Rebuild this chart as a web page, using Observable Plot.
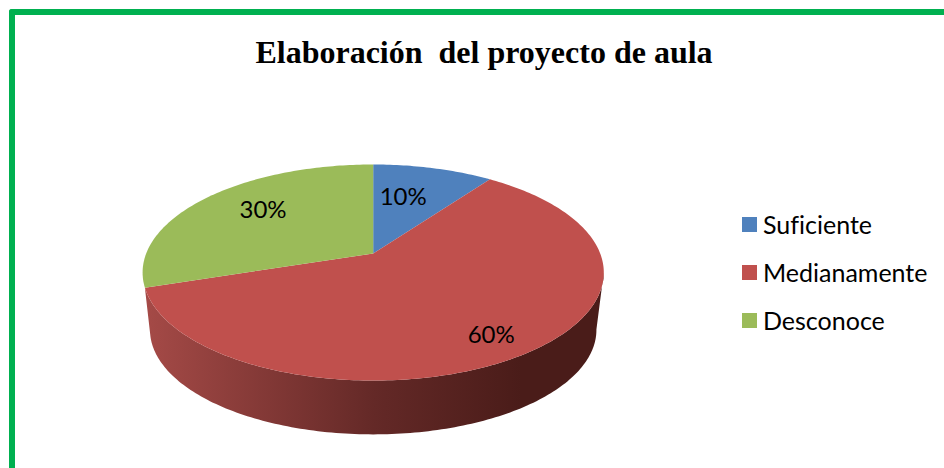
<!DOCTYPE html>
<html lang="es">
<head>
<meta charset="utf-8">
<script src="https://cdn.jsdelivr.net/npm/d3@7"></script>
<script src="https://cdn.jsdelivr.net/npm/@observablehq/plot@0.6"></script>
<style>
  html, body { margin: 0; background: #fff; }
  #page { position: relative; width: 944px; height: 468px; overflow: hidden; }
  #frame { position: absolute; left: 9px; top: 9px; width: 960px; height: 480px;
    border-left: 6px solid #00B050; border-top: 6px solid #00B050; border-top-left-radius: 3px; box-sizing: border-box; }
  #title { position: relative; height: 76px; box-sizing: border-box; padding: 33px 0 0 24px; text-align: center;
    font: bold 32px/38px "Liberation Serif", serif; color: #000; white-space: pre; }
  #chart { position: relative; height: 392px; }
  #chart svg { display: block; }
  #legend { position: absolute; left: 742px; top: 200px; font: 25px/48px Lato, sans-serif; color: #000; font-variant-ligatures: none; }
  #legend div { display: flex; align-items: center; height: 48px; white-space: nowrap; }
  #legend i { display: block; width: 15px; height: 15px; margin-right: 6px; }
</style>
</head>
<body>
<div id="page">
  <div id="frame"></div>
  <div id="title"></div>
  <div id="chart"></div>
  <div id="legend"></div>
</div>
<script>
const titleText = "Elaboración  del proyecto de aula";
const categories = ["Suficiente", "Medianamente", "Desconoce"];
const shares = [10, 60, 30];
const colors = ["#4F81BD", "#C0504D", "#9BBB59"];
const wallStops = [[0, "#A54A47"], [0.5, "#642927"], [0.82, "#4A1C19"], [1, "#4A1C19"]];

// Layout of the tilted disc (pixels on the page and perspective factors)
const titleHeight = 76;
const centre = [372.7, 253], radius = [227, 104.7], tilt = 0.176;
const lowerScale = 0.968, lowerShift = -0.553;
const labelSpots = [[0.146, 0.59], [0.457, -0.688], [-0.523, 0.443]]; // on the unit disc

const rad = d => d * Math.PI / 180;
const project = (deg, s = 1, shift = 0) => {
  const u = Math.sin(rad(deg)), v = Math.cos(rad(deg)), w = 1 + tilt * v;
  return {x: s * u / w, y: shift + s * v / w};
};
const arc = (from, to, s, shift) => {
  const pts = [], step = from < to ? 1 : -1;
  for (let a = from; step > 0 ? a < to : a > to; a += step) pts.push(project(a, s, shift));
  pts.push(project(to, s, shift));
  return pts;
};

// Slices from the shares
const total = d3.sum(shares);
let cum = 0;
const slices = categories.flatMap((name, i) => {
  const start = cum / total * 360;
  cum += shares[i];
  const end = cum / total * 360;
  return [{x: 0, y: 0, name}, ...arc(start, end).map(p => ({...p, name}))];
});

// Side wall: the visible front of the red slice
const wallFrom = 100, wallTo = (shares[0] + shares[1]) / total * 360, lowerTo = wallTo + 4;
const wall = [...arc(wallFrom, wallTo), ...arc(lowerTo, wallFrom, lowerScale, lowerShift)];

const labels = categories.map((name, i) => {
  const [u, v] = labelSpots[i], w = 1 + tilt * v;
  return {x: u / w, y: v / w, text: shares[i] + "%"};
});

const gradient = () => {
  const svg = d3.create("svg:defs");
  const g = svg.append("linearGradient").attr("id", "wall");
  wallStops.forEach(([o, c]) => g.append("stop").attr("offset", o).attr("stop-color", c));
  return svg.node();
};

const plot = Plot.plot({
  width: 944,
  height: 392,
  margin: 0,
  x: {axis: null, domain: [-1, 1], range: [centre[0] - radius[0], centre[0] + radius[0]]},
  y: {axis: null, domain: [-1, 1], range: [centre[1] + radius[1] - titleHeight, centre[1] - radius[1] - titleHeight]},
  color: {domain: categories, range: colors},
  style: {background: "transparent"},
  marks: [
    gradient,
    Plot.line(wall, {x: "x", y: "y", fill: "url(#wall)", stroke: "none", curve: "linear"}),
    Plot.line(slices, {x: "x", y: "y", z: "name", fill: "name", stroke: "none", curve: "linear"}),
    Plot.text(labels, {x: "x", y: "y", text: "text", fill: "#000", fontSize: 24, fontFamily: "Lato, sans-serif"})
  ]
});
document.getElementById("chart").append(plot);
document.getElementById("title").textContent = titleText;
document.getElementById("legend").innerHTML = categories
  .map((c, i) => `<div><i style="background:${colors[i]}"></i>${c}</div>`).join("");
</script>
</body>
</html>
